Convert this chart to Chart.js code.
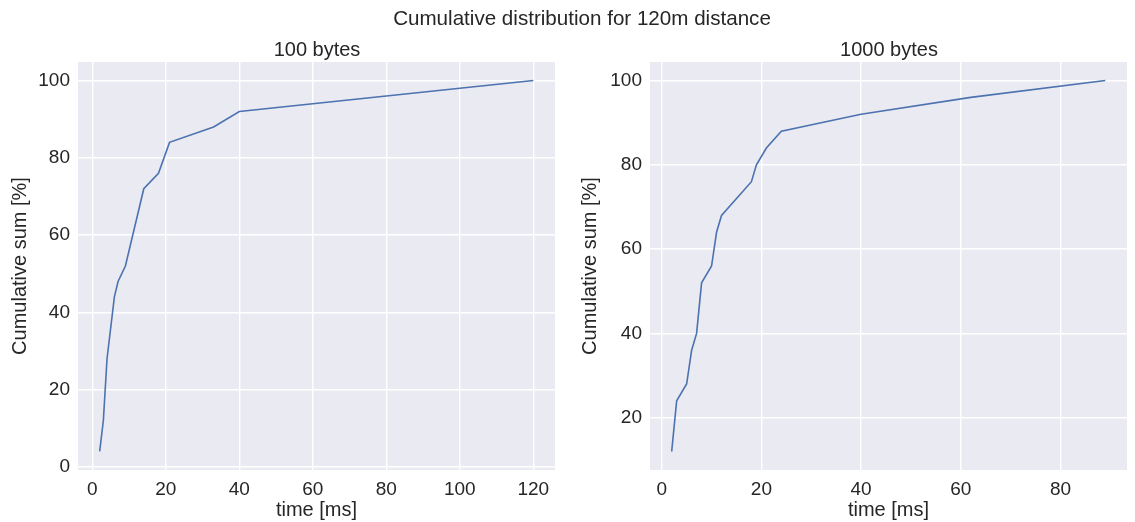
<!DOCTYPE html>
<html>
<head>
<meta charset="utf-8">
<script src="https://cdn.jsdelivr.net/npm/chart.js@4/dist/chart.umd.min.js"></script>
<style>
  body { margin: 0; background: #fff; font-family: "Liberation Sans", Arial, sans-serif; color: #262626; }
  #wrap { position: relative; width: 1135px; height: 522px; overflow: hidden; }
  canvas { position: absolute; top: 0; }
  .title { position: absolute; white-space: nowrap; transform: translate(-50%, -50%); }
</style>
</head>
<body>
<div id="wrap">
  <canvas id="left" width="565" height="522" style="left:0"></canvas>
  <canvas id="right" width="565" height="522" style="left:570px"></canvas>
  <div class="title" style="left:582px; top:18px; font-size:20.6px">Cumulative distribution for 120m distance</div>
  <div class="title" style="left:317px; top:49px; font-size:20px">100 bytes</div>
  <div class="title" style="left:889px; top:49px; font-size:20px">1000 bytes</div>
</div>
<script>
// data
const time100  = [2, 3, 4, 6, 7, 9, 14, 18, 21, 33, 40, 120];
const cum100   = [4, 12, 28, 44, 48, 52, 72, 76, 84, 88, 92, 100];
const time1000 = [2, 3, 5, 6, 7, 8, 10, 11, 12, 18, 19, 21, 24, 40, 62, 89];
const cum1000  = [12, 24, 28, 36, 40, 52, 56, 64, 68, 76, 80, 84, 88, 92, 96, 100];

const xTicks100  = [0, 20, 40, 60, 80, 100, 120];
const yTicks100  = [0, 20, 40, 60, 80, 100];
const xTicks1000 = [0, 20, 40, 60, 80];
const yTicks1000 = [20, 40, 60, 80, 100];

const TEXT = '#262626';
const FONT = '"Liberation Sans", Arial, sans-serif';

// matplotlib-like 5% margins
function padRange(arr) {
  const lo = Math.min(...arr), hi = Math.max(...arr);
  const m = (hi - lo) * 0.05;
  return [lo - m, hi + m];
}

const plotBg = {
  id: 'plotBg',
  beforeDraw(chart) {
    const a = chart.chartArea, c = chart.ctx;
    c.save();
    c.fillStyle = '#eaeaf2';
    c.fillRect(a.left, a.top, a.right - a.left, a.bottom - a.top);
    c.restore();
  }
};

function makeChart(id, xs, ys, xTicks, yTicks, yAxisW, padRight) {
  const [xmin, xmax] = padRange(xs);
  const [ymin, ymax] = padRange(ys);
  return new Chart(document.getElementById(id), {
    type: 'line',
    data: {
      datasets: [{
        data: xs.map((x, i) => ({ x: x, y: ys[i] })),
        borderColor: '#4c72b0',
        borderWidth: 1.6,
        pointRadius: 0,
        tension: 0,
        fill: false
      }]
    },
    options: {
      responsive: false,
      animation: false,
      devicePixelRatio: 1,
      layout: { padding: { top: 62, right: padRight, left: 0, bottom: 0 } },
      plugins: { legend: { display: false }, tooltip: { enabled: false } },
      scales: {
        x: {
          type: 'linear',
          min: xmin, max: xmax,
          afterBuildTicks: s => { s.ticks = xTicks.map(v => ({ value: v })); },
          afterFit: s => { s.height = 52; },
          grid: { color: '#ffffff', lineWidth: 1.4, drawTicks: false },
          border: { display: false },
          ticks: { color: TEXT, font: { family: FONT, size: 19 }, padding: 8, maxRotation: 0 },
          title: { display: true, text: 'time [ms]', color: TEXT, font: { family: FONT, size: 20 }, padding: { top: 0, bottom: 0 } }
        },
        y: {
          type: 'linear',
          min: ymin, max: ymax,
          afterBuildTicks: s => { s.ticks = yTicks.map(v => ({ value: v })); },
          afterFit: s => { s.width = yAxisW; },
          grid: { color: '#ffffff', lineWidth: 1.4, drawTicks: false },
          border: { display: false },
          ticks: { color: TEXT, font: { family: FONT, size: 19 }, padding: 8 },
          title: { display: true, text: 'Cumulative sum [%]', color: TEXT, font: { family: FONT, size: 20 }, padding: { top: 8, bottom: 0 } }
        }
      }
    },
    plugins: [plotBg]
  });
}

makeChart('left', time100, cum100, xTicks100, yTicks100, 78, 10);
makeChart('right', time1000, cum1000, xTicks1000, yTicks1000, 80, 8);
</script>
</body>
</html>
